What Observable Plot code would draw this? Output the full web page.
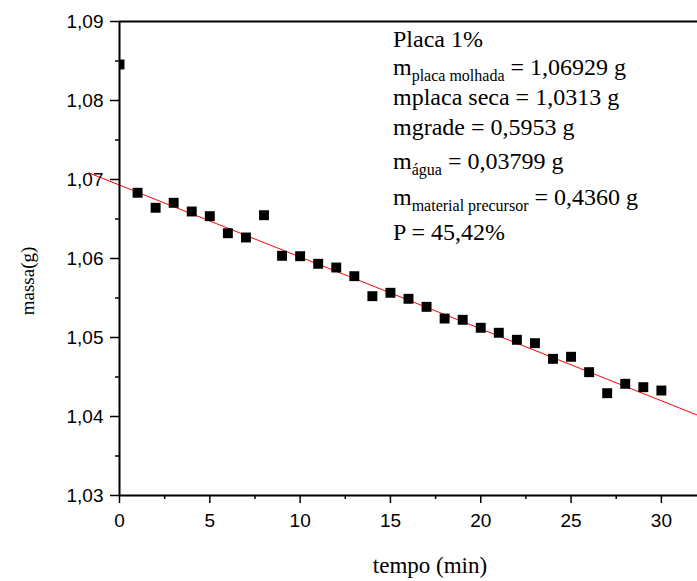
<!DOCTYPE html>
<html><head><meta charset="utf-8">
<script src="https://cdn.jsdelivr.net/npm/d3@7"></script>
<script src="https://cdn.jsdelivr.net/npm/@observablehq/plot@0.6"></script>
<style>body{margin:0;background:#fff} svg{display:block}</style>
</head><body><div id="chart"></div>
<script>
// ---- data ----
const tempo = [0,1,2,3,4,5,6,7,8,9,10,11,12,13,14,15,16,17,18,19,20,21,22,23,24,25,26,27,28,29,30];
const massa = [1.08456,1.06832,1.06642,1.06705,1.06595,1.06536,1.06320,1.06266,1.06548,1.06034,1.06029,
  1.05933,1.05886,1.05776,1.05523,1.05566,1.05490,1.05388,1.05240,1.05224,1.05123,1.05060,1.04971,
  1.04928,1.04730,1.04756,1.04561,1.04295,1.04414,1.04371,1.04329];
const fitTempo = [-1.7, 32];
const fitMassa = [1.07084, 1.04017];
const xTicks = [0,5,10,15,20,25,30];
const xMinorTicks = [2.5,7.5,12.5,17.5,22.5,27.5];
const yTicks = [1.03,1.04,1.05,1.06,1.07,1.08,1.09];
const yMinorTicks = [1.035,1.045,1.055,1.065,1.075,1.085];
const xLabel = "tempo (min)";
const yLabel = "massa(g)";
const noteMain = ["Placa 1%", "m", "mplaca seca = 1,0313 g", "mgrade = 0,5953 g", "m", "m", "P = 45,42%"];
const noteSub  = ["", "placa molhada", "", "", "água", "material precursor", ""];
const noteRest = ["", " = 1,06929 g", "", "", " = 0,03799 g", " = 0,4360 g", ""];

// ---- chart ----
const points = tempo.map((t, i) => ({t, m: massa[i]}));
const fit = fitTempo.map((t, i) => ({t, m: fitMassa[i]}));
const fmtY = d => d.toFixed(2).replace(".", ",");

const plot = Plot.plot({
  width: 697, height: 581,
  marginLeft: 119, marginRight: 0, marginTop: 21, marginBottom: 86,
  style: {fontFamily: "'Liberation Sans', Arial, sans-serif", fontSize: "19px", color: "black", background: "white"},
  x: {domain: [0, 32]},
  y: {domain: [1.03, 1.09]},
  marks: [
    Plot.line(fit, {x: "t", y: "m", stroke: "#ff0000", strokeWidth: 1}),
    Plot.dot(points, {x: "t", y: "m", symbol: "square", r: 5.6, fill: "black", stroke: "none", clip: true}),
    Plot.axisY(yTicks, {tickSize: 9, tickPadding: 7, tickFormat: fmtY, strokeWidth: 1.5, label: null, fontSize: 19}),
    Plot.axisY(yMinorTicks, {tickSize: 4, strokeWidth: 1.5, fill: "none", label: null}),
    Plot.axisX(xTicks, {tickSize: 8, tickPadding: 10, tickFormat: d => String(d), strokeWidth: 1.5, label: null, fontSize: 19}),
    Plot.axisX(xMinorTicks, {tickSize: 4, strokeWidth: 1.5, fill: "none", label: null}),
    Plot.ruleX([0], {strokeWidth: 2}),
    Plot.ruleY([1.03, 1.09], {strokeWidth: 2})
  ]
});

const svg = d3.select(plot);
const serif = "'Liberation Serif', 'Times New Roman', serif";
// axis titles
svg.append("text").attr("x", 430).attr("y", 573).attr("text-anchor", "middle")
  .attr("font-family", serif).attr("font-size", 23).attr("fill", "black").text(xLabel);
svg.append("text").attr("transform", "translate(34,281) rotate(-90)").attr("text-anchor", "middle")
  .attr("font-family", serif).attr("font-size", 19).attr("fill", "black").text(yLabel);
// annotation
const lineY = [47, 75, 105, 135, 169, 205, 240];
const note = svg.append("g").attr("font-family", serif).attr("font-size", 24).attr("fill", "black")
  .attr("text-anchor", "start").style("white-space", "pre");
noteMain.forEach((s, i) => {
  const t = note.append("text").attr("x", 393).attr("y", lineY[i]).attr("text-anchor", "start").text(s);
  if (noteSub[i]) {
    t.append("tspan").attr("font-size", 16).attr("dy", 6).text(noteSub[i]);
    t.append("tspan").attr("dy", -6).text(noteRest[i]);
  }
});

document.getElementById("chart").appendChild(plot);
</script>
</body></html>
